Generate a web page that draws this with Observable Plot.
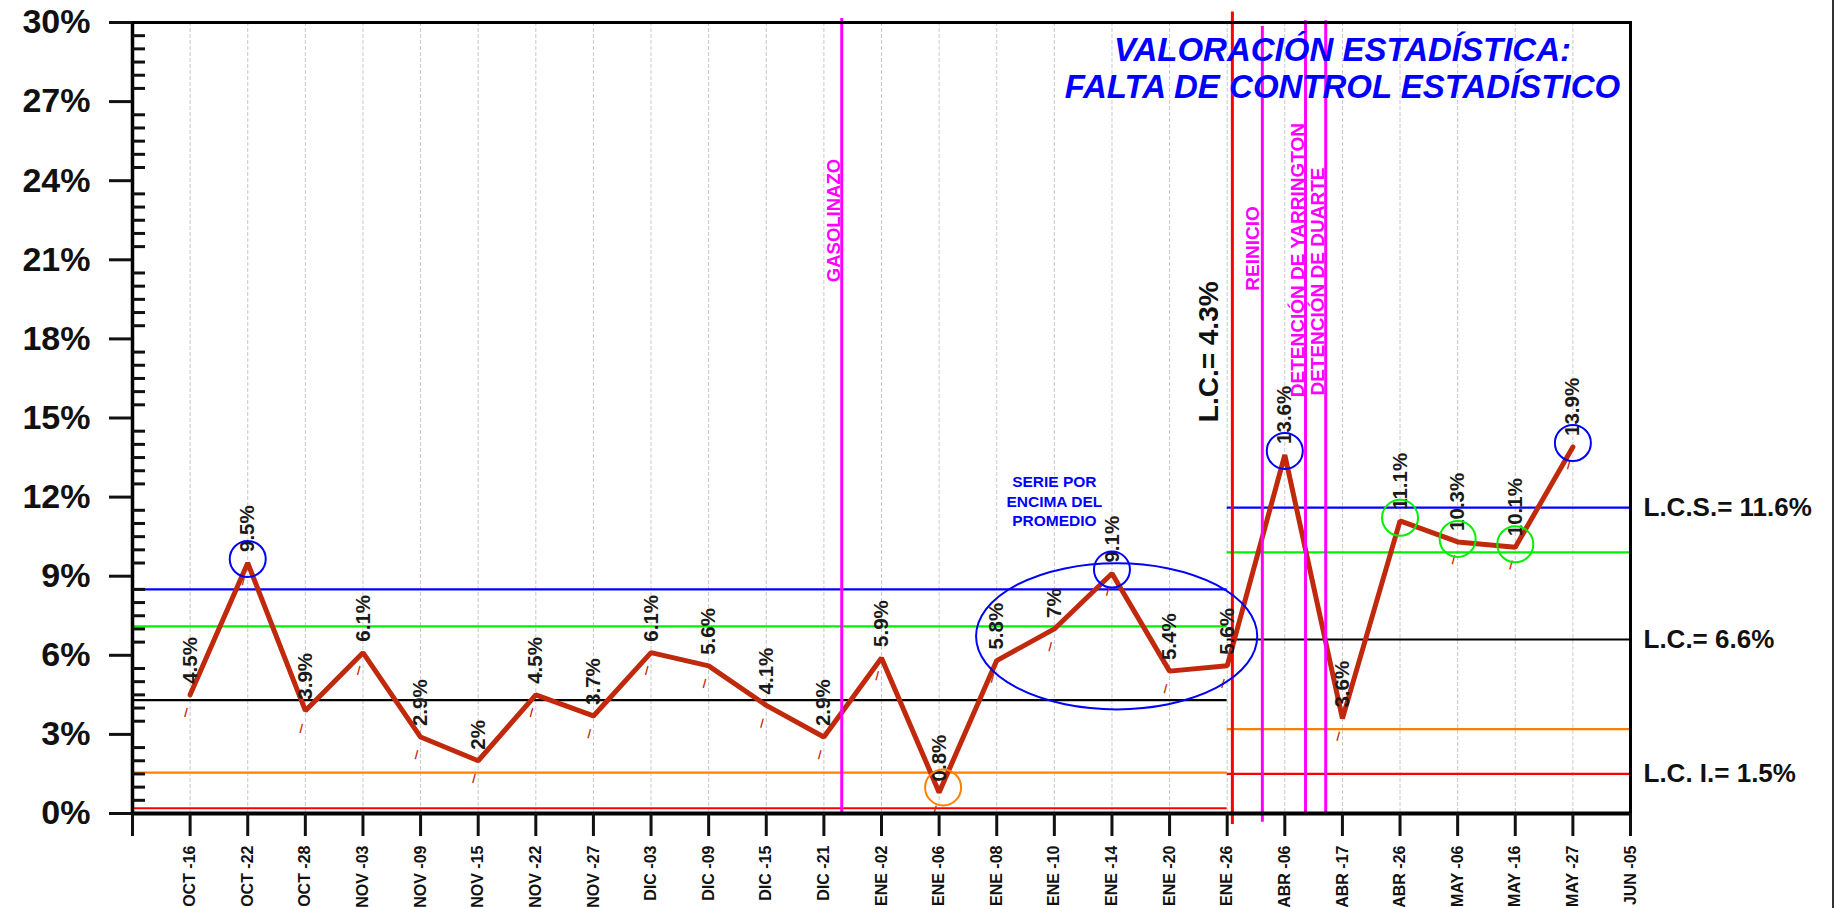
<!DOCTYPE html>
<html>
<head>
<meta charset="utf-8">
<script src="https://cdn.jsdelivr.net/npm/d3@7"></script>
<script src="https://cdn.jsdelivr.net/npm/@observablehq/plot@0.6"></script>
<style>
  html, body { margin: 0; padding: 0; background: #fff; }
  #wrap { position: relative; width: 1837px; height: 908px; overflow: hidden; }
  #edge { position: absolute; left: 1832px; top: 0; width: 2px; height: 908px; background: #333; }
  [aria-label="y-axis tick label"] text { font-weight: bold; }
  [aria-label="x-axis tick label"] text { font-weight: bold; }
</style>
</head>
<body>
<div id="wrap"><div id="edge"></div></div>
<script>
// ---- data ----
const xLabels = ["", "OCT -16", "OCT -22", "OCT -28", "NOV -03", "NOV -09", "NOV -15", "NOV -22", "NOV -27",
  "DIC -03", "DIC -09", "DIC -15", "DIC -21", "ENE -02", "ENE -06", "ENE -08", "ENE -10", "ENE -14",
  "ENE -20", "ENE -26", "ABR -06", "ABR -17", "ABR -26", "MAY -06", "MAY -16", "MAY -27", "JUN -05"];
const categories = ["OCT -16", "OCT -22", "OCT -28", "NOV -03", "NOV -09", "NOV -15", "NOV -22", "NOV -27",
  "DIC -03", "DIC -09", "DIC -15", "DIC -21", "ENE -02", "ENE -06", "ENE -08", "ENE -10", "ENE -14",
  "ENE -20", "ENE -26", "ABR -06", "ABR -17", "ABR -26", "MAY -06", "MAY -16", "MAY -27"];
const values = [4.5, 9.5, 3.9, 6.1, 2.9, 2, 4.5, 3.7, 6.1, 5.6, 4.1, 2.9, 5.9, 0.8, 5.8, 7, 9.1, 5.4, 5.6,
  13.6, 3.6, 11.1, 10.3, 10.1, 13.9];
const yTicks = [0, 3, 6, 9, 12, 15, 18, 21, 24, 27, 30];
const yMinor = d3.range(0.5, 30, 0.5).filter(d => d % 3 !== 0);

const limitNames = ["L.C.S.", "+2σ", "L.C.", "-2σ", "L.C.I."];
const phase1Limits = [8.5, 7.1, 4.3, 1.55, 0.2];
const phase2Limits = [11.6, 9.9, 6.6, 3.2, 1.5];
const limitColors = ["#0000ff", "#00f000", "#000000", "#ff8000", "#ff0000"];
const phase2Labels = ["L.C.S.= 11.6%", "L.C.= 6.6%", "L.C. I.= 1.5%"];
const phase2LabelValues = [11.6, 6.6, 1.5];

const blueCircled = ["OCT -22", "ENE -14", "ABR -06", "MAY -27"];
const greenCircled = ["ABR -26", "MAY -06", "MAY -16"];
const orangeCircled = ["ENE -06"];

const events = ["GASOLINAZO", "REINICIO", "DETENCIÓN DE YARRINGTON", "DETENCIÓN DE DUARTE"];

// ---- build table ----
const data = categories.map((c, i) => ({cat: c, x: xLabels.indexOf(c), v: values[i], label: values[i] + "%"}));
const pick = list => data.filter(d => list.includes(d.cat));
const limits1 = phase1Limits.map((v, i) => ({v, color: limitColors[i], name: limitNames[i]}));
const limits2 = phase2Limits.map((v, i) => ({v, color: limitColors[i], name: limitNames[i]}));

const FONT = "'Liberation Sans', Arial, Helvetica, sans-serif";
const lineColor = "#c0290b";
const magenta = "#ff00ff";

const chart = Plot.plot({
  width: 1837,
  height: 908,
  marginLeft: 132,
  marginRight: 207,
  marginTop: 22,
  marginBottom: 95,
  x: {domain: [0, 26], axis: null},
  y: {domain: [0, 30], axis: null},
  style: {fontFamily: FONT, background: "#fff", overflow: "visible", color: "#111"},
  marks: [
    Plot.gridX(xLabels.map((_, i) => i), {stroke: "#c8c8c8", strokeOpacity: 1, strokeDasharray: "4,2", strokeWidth: 1}),
    // control limits, phase 1 and phase 2
    Plot.ruleY(limits1, {y: "v", x1: 0, x2: 19, stroke: "color", strokeWidth: 2.2}),
    Plot.ruleY(limits2, {y: "v", x1: 19, x2: 26, stroke: "color", strokeWidth: 2.2}),
    // series
    Plot.line(data, {x: "x", y: "v", stroke: lineColor, strokeWidth: 5, strokeLinejoin: "miter"}),
    Plot.text(data, {x: "x", y: "v", text: () => "|", rotate: 15, dx: -4, dy: 17, fill: lineColor, fontSize: 10, fontWeight: "bold"}),
    // event lines
    Plot.ruleX([12.31], {y1: 0, y2: 30.15, stroke: magenta, strokeWidth: 3}),
    Plot.ruleX([19.61], {y1: -0.33, y2: 29.85, stroke: magenta, strokeWidth: 3}),
    Plot.ruleX([20.36], {y1: 0, y2: 30.07, stroke: magenta, strokeWidth: 3}),
    Plot.ruleX([20.71], {y1: 0, y2: 30.07, stroke: magenta, strokeWidth: 3}),
    Plot.ruleX([19.09], {y1: -0.42, y2: 30.4, stroke: "#ff0000", strokeWidth: 3}),
    Plot.text([events[0]], {x: 12.31, y: 20.15, text: d => d, rotate: -90, textAnchor: "start", dx: -8, fill: magenta, fontSize: 18.5, fontWeight: "bold"}),
    Plot.text([events[1]], {x: 19.61, y: 19.83, text: d => d, rotate: -90, textAnchor: "start", dx: -9, fill: magenta, fontSize: 19, fontWeight: "bold"}),
    Plot.text([events[2]], {x: 20.36, y: 15.79, text: d => d, rotate: -90, textAnchor: "start", dx: -8, fill: magenta, fontSize: 19, fontWeight: "bold"}),
    Plot.text([events[3]], {x: 20.71, y: 15.85, text: d => d, rotate: -90, textAnchor: "start", dx: -8, fill: magenta, fontSize: 19, fontWeight: "bold"}),
    Plot.text(["L.C.= 4.3%"], {x: 18.68, y: 14.84, text: d => d, rotate: -90, textAnchor: "start", fill: "#111", fontSize: 28, fontWeight: "bold"}),
    // data labels
    Plot.text(data, {x: "x", y: "v", text: "label", rotate: -90, textAnchor: "start", dy: -11, fill: "#1a1a1a", fontSize: 20.5, fontWeight: "bold"}),
    // circles
    Plot.dot(pick(blueCircled), {x: "x", y: "v", r: 18, dy: -4, stroke: "#0000ff", strokeWidth: 2, fill: "none"}),
    Plot.dot(pick(greenCircled), {x: "x", y: "v", r: 18, dy: -3, stroke: "#00f000", strokeWidth: 2, fill: "none"}),
    Plot.dot(pick(orangeCircled), {x: "x", y: "v", r: 18, dx: 4, dy: -5, stroke: "#ff8000", strokeWidth: 2, fill: "none"}),
    Plot.text(["SERIE POR\nENCIMA DEL\nPROMEDIO"], {x: 16, y: 11.87, text: d => d, fill: "#0000ff", fontSize: 15.5, fontWeight: "bold", lineHeight: 1.25}),
    // title
    Plot.text(["VALORACIÓN ESTADÍSTICA:\nFALTA DE CONTROL ESTADÍSTICO"], {x: 21.0, y: 28.28, text: d => d, fill: "#0000ff", fontSize: 33, fontWeight: "bold", fontStyle: "italic", lineHeight: 1.1}),
    // right labels
    Plot.text(phase2Labels, {x: 26, y: (d, i) => phase2LabelValues[i], text: d => d, textAnchor: "start", dx: 13, fill: "#111", fontSize: 26, fontWeight: "bold"}),
    // frame and axes
    Plot.frame({stroke: "#000", strokeWidth: 3}),
    Plot.ruleX([0], {stroke: "#000", strokeWidth: 3.5}),
    Plot.ruleY([0], {stroke: "#000", strokeWidth: 4}),
    Plot.axisY(yTicks, {tickSize: 23, tickPadding: 19, tickFormat: d => d + "%", fontSize: 34, fontWeight: "bold", strokeWidth: 3, label: null}),
    Plot.axisY(yMinor, {tickSize: 13, dx: 13, tickFormat: () => "", strokeWidth: 3, label: null}),
    Plot.axisX(xLabels.map((_, i) => i), {tickSize: 23, tickPadding: 9, tickRotate: -90, tickFormat: i => xLabels[i], fontSize: 16, fontWeight: "bold", strokeWidth: 3, label: null})
  ]
});

document.getElementById("wrap").prepend(chart);

// ellipse annotation around the run above the mean, positioned through the plot's scales
const sx = chart.scale("x"), sy = chart.scale("y");
const ellipse = {cx: 17.09, cy: 6.7, wx: 2.44, wy: 2.77};
d3.select(chart).append("ellipse")
  .attr("cx", sx.apply(ellipse.cx))
  .attr("cy", sy.apply(ellipse.cy))
  .attr("rx", sx.apply(ellipse.cx + ellipse.wx) - sx.apply(ellipse.cx))
  .attr("ry", sy.apply(ellipse.cy) - sy.apply(ellipse.cy + ellipse.wy))
  .attr("fill", "none")
  .attr("stroke", "#0000ff")
  .attr("stroke-width", 2);
</script>
</body>
</html>
